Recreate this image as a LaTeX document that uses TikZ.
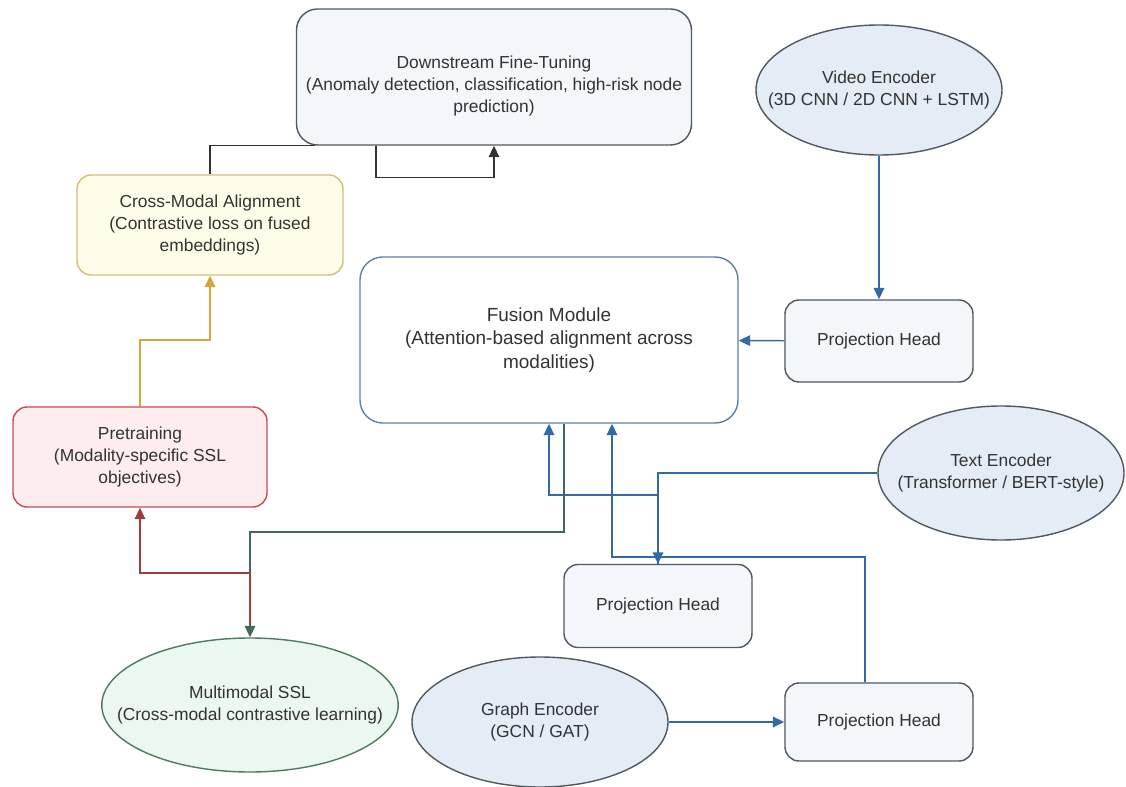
\documentclass[tikz,border=0pt]{standalone}
\usepackage{fontspec}
\setmainfont{Liberation Sans}
\usetikzlibrary{arrows.meta,shapes.geometric}

\definecolor{txtgray}{HTML}{333333}
\definecolor{edgegray}{HTML}{505860}
\definecolor{boxfill}{HTML}{F3F6FA}
\definecolor{encfill}{HTML}{E4ECF5}
\definecolor{linkblue}{HTML}{336AA3}
\definecolor{fusedge}{HTML}{5B7FA6}
\definecolor{yelfill}{HTML}{FFFDE9}
\definecolor{yeledge}{HTML}{D6BE72}
\definecolor{yellink}{HTML}{D4A53A}
\definecolor{redfill}{HTML}{FDEDEE}
\definecolor{rededge}{HTML}{C24E50}
\definecolor{redlink}{HTML}{A43B3B}
\definecolor{grnfill}{HTML}{EAF8F0}
\definecolor{grnedge}{HTML}{4C7C5E}
\definecolor{grnlink}{HTML}{3F6A55}

\newcommand{\pu}{0.02cm}

\begin{document}
\begin{tikzpicture}[x=0.02cm, y=-0.02cm,
        box/.style={draw=edgegray, fill=boxfill, rounded corners=8pt, line width=0.8pt,
            align=center, text=txtgray, inner sep=0pt, font=\fontsize{9.9}{12.6}\selectfont},
        enc/.style={ellipse, draw=edgegray, fill=encfill, line width=0.8pt, align=center,
            text=txtgray, inner xsep=-16pt, inner ysep=0pt, font=\fontsize{9.9}{12.6}\selectfont},
        projbox/.style={box, minimum width=188*\pu},
        arr/.style={draw=linkblue, line width=0.8pt, -{Triangle[length=6.5pt,width=6pt]}},
        yarr/.style={arr, draw=yellink},
        rarr/.style={arr, draw=redlink},
        garr/.style={arr, draw=grnlink},
        darr/.style={arr, draw=txtgray},
    ]
    \useasboundingbox[fill=white] (0,0) rectangle (1126,787);

    % boxes
    \node[box, rounded corners=12pt, minimum width=395*\pu, minimum height=136*\pu] (ds) at (494,77)
        {\raisebox{0pt}[\dimexpr\height+18\dimexpr\pu\relax\relax]{\begin{tabular}{@{}c@{}}Downstream Fine-Tuning\\
        (Anomaly detection, classification, high-risk node\\prediction)\end{tabular}}};
    \node[box, draw=yeledge, fill=yelfill, minimum width=266*\pu, minimum height=100*\pu] (cma) at (210,225)
        {Cross-Modal Alignment\\(Contrastive loss on fused\\embeddings)};
    \node[box, draw=rededge, fill=redfill, minimum width=254*\pu, minimum height=100*\pu] (pre) at (140,457)
        {Pretraining\\(Modality-specific SSL\\objectives)};
    \node[box, draw=fusedge, fill=white, rounded corners=13pt, minimum width=378*\pu, minimum height=166*\pu,
        font=\fontsize{10.8}{13.5}\selectfont] (fus) at (549,340)
        {Fusion Module\\(Attention-based alignment across\\modalities)};
    \node[projbox, minimum height=82*\pu] (ph1) at (879,341) {Projection Head};
    \node[projbox, minimum height=83*\pu] (ph2) at (658,606) {Projection Head};
    \node[projbox, minimum height=78*\pu] (ph3) at (879,722) {Projection Head};

    % encoders
    \node[enc, minimum width=246*\pu, minimum height=130*\pu] (vid) at (879,90)
        {Video Encoder\\(3D CNN / 2D CNN + LSTM)};
    \node[enc, minimum width=246*\pu, minimum height=134*\pu] (txt) at (1001,473)
        {Text Encoder\\(Transformer / BERT-style)};
    \node[enc, minimum width=256*\pu, minimum height=130*\pu] (gra) at (540,722)
        {Graph Encoder\\(GCN / GAT)};
    \node[enc, draw=grnedge, fill=grnfill, minimum width=286*\pu, minimum height=134*\pu] (mssl) at (250,705)
        {Multimodal SSL\\(Cross-modal contrastive learning)};

    % bends
    \coordinate (j2) at (658,495);
    \coordinate (j3) at (865,557);
    \coordinate (j4) at (250,532);
    \coordinate (j5) at (250,573);
    \coordinate (j6) at (140,340);

    % connectors
    \draw[arr] (vid) -- (ph1);
    \draw[arr] (ph1) -- (fus);
    \draw[arr] (txt.west) -| (ph2.north);
    \draw[arr] (ph2.north) -- (j2) -| (fus.south);
    \draw[arr] (ph3.north -| j3) -- (j3) -| ([xshift=63*\pu]fus.south);
    \draw[arr] (gra) -- (ph3);
    \draw[garr] ([xshift=15*\pu]fus.south) |- (j4) -- (mssl.north);
    \draw[rarr, shorten <=7pt] (mssl.north) -- (j5) -| (pre.south);
    \draw[yarr] (pre.north) -- (j6) -| (cma.south);
    \draw[draw=txtgray, line width=0.8pt] (cma.north) |- ([xshift=19*\pu]ds.south west);
    \draw[darr] ([xshift=-118*\pu]ds.south) -- ++(0,32) -| (ds.south);
\end{tikzpicture}
\end{document}
